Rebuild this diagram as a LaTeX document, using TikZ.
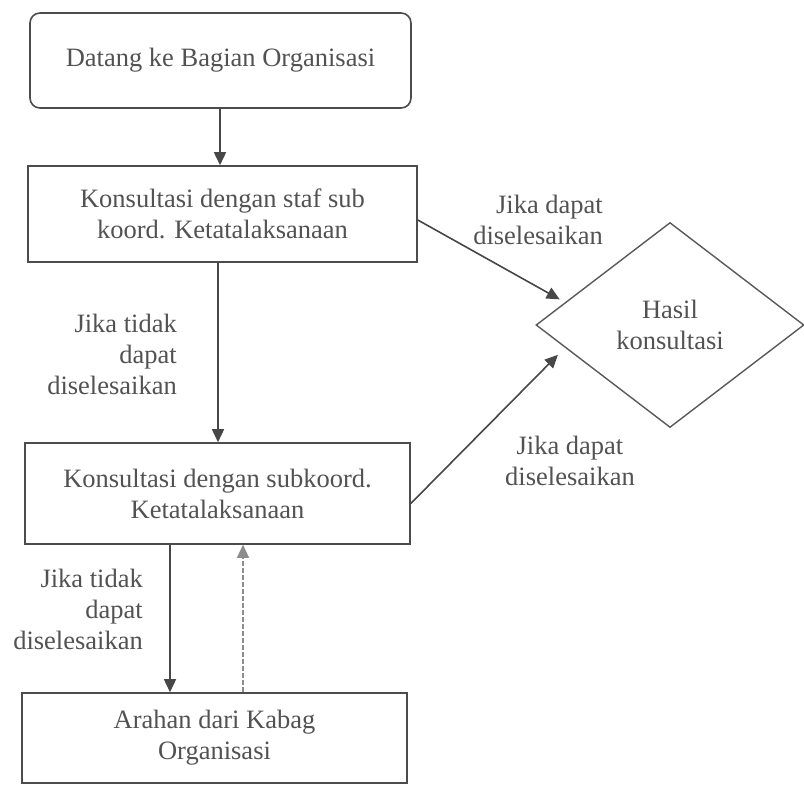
\documentclass[tikz,border=0pt]{standalone}
\usepackage{fontspec}
\setmainfont{Liberation Serif}
\usetikzlibrary{shapes.geometric,arrows.meta,calc}
\begin{document}
\begin{tikzpicture}[x=1pt,y=-1pt,
  every node/.style={font=\fontsize{26.5}{31}\selectfont, text=black!68},
  box/.style={draw=black!70, line width=1.6pt, inner sep=0pt, align=center},
  arr/.style={draw=black!72, line width=1.6pt, -{Triangle[length=13pt,width=12pt]}},
  darr/.style={draw=black!45, line width=1.4pt, dash pattern=on 5pt off 2pt, -{Triangle[length=13pt,width=12pt]}},
  lbl/.style={inner sep=0pt}]
\useasboundingbox (0,0) rectangle (804,785);
\node[box, rounded corners=10pt, minimum width=381pt, minimum height=95pt] (b1) at (220.5,60.5) {Datang ke Bagian Organisasi};
\node[box, minimum width=389pt, minimum height=96pt] (b2) at (222.5,214) {Konsultasi dengan staf sub\\koord. Ketatalaksanaan};
\node[box, minimum width=385pt, minimum height=101pt] (b3) at (217.5,493.5) {Konsultasi dengan subkoord.\\Ketatalaksanaan};
\node[box, minimum width=385pt, minimum height=90pt] (b4) at (214.5,738) {Arahan dari Kabag\\Organisasi};
\node[diamond, draw=black!65, line width=1.4pt, minimum width=268pt, minimum height=205pt, inner sep=0pt, align=center] (d) at (670,325) {Hasil\\konsultasi};
\coordinate (xa) at (220,0);
\coordinate (xb) at (218,0);
\coordinate (xc) at (170,0);
\coordinate (xd) at (243,0);
\coordinate (t1) at ($(d.west)!0.22!(d.north)$);
\coordinate (t2) at ($(d.west)!0.22!(d.south)$);
\draw[arr] (b1.south -| xa) -- (b2.north -| xa);
\draw[arr] (b2.south -| xb) -- (b3.north -| xb);
\draw[arr] (b3.south -| xc) -- (b4.north -| xc);
\draw[darr] (b4.north -| xd) -- (b3.south -| xd);
\draw[arr, shorten >=6pt] ([yshift=-6pt]b2.east) -- (t1);
\draw[arr, shorten >=10pt] ([yshift=-10pt]b3.east) -- (t2);
\node[lbl, align=right, anchor=east] (l1) at (603,220) {Jika dapat\\diselesaikan};
\node[lbl, align=center] (l2) at (570,461) {Jika dapat\\diselesaikan};
\node[lbl, align=right, anchor=east] (l3) at (177,354) {Jika tidak\\dapat\\diselesaikan};
\node[lbl, align=right, anchor=east] (l4) at (143,609) {Jika tidak\\dapat\\diselesaikan};
\end{tikzpicture}
\end{document}
